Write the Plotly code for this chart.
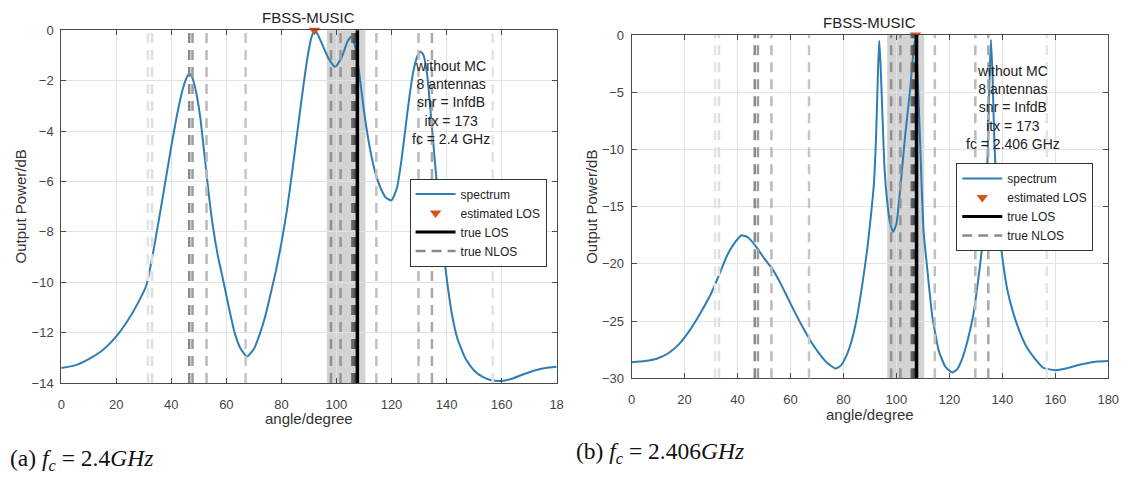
import plotly.graph_objects as go

W, H = 1138, 486

# ---- spectrum, fc = 2.4 GHz ----
ang_a = [0, 5, 10, 15, 20, 24, 28, 31, 34, 37, 40, 42, 44, 45.5, 46.5, 47.5, 49, 50.5, 52, 53.5,
         55, 57, 59, 61, 63, 65, 67.5, 70, 72, 74, 76, 78, 80, 82, 84, 86, 88, 89.5, 91, 92,
         93, 95, 97, 99.5, 102, 104, 105.5, 107, 108.5, 110, 112, 114, 116, 118, 120, 122, 123.5,
         125, 126.5, 128, 129.5, 130.5, 131.5, 133, 134.5, 136, 137.5, 139, 140.5, 142, 144, 147,
         150, 153, 156, 160, 164, 168, 172, 176, 180]
pow_a = [-13.40, -13.30, -13.05, -12.70, -12.15, -11.55, -10.80, -10.10, -8.45, -6.55, -4.60, -3.40,
         -2.40, -1.90, -1.72, -1.85, -2.45, -3.45, -4.90, -6.40, -7.70, -9.00, -10.00, -11.05,
         -12.00, -12.60, -12.95, -12.65, -12.10, -11.40, -10.50, -9.55, -8.45, -7.15, -5.55, -3.85,
         -2.20, -1.05, -0.25, -0.03, -0.12, -0.60, -1.10, -1.45, -1.05, -0.45, -0.25, -0.75, -1.90,
         -3.20, -4.60, -5.60, -6.25, -6.65, -6.75, -6.25, -5.25, -3.95, -2.65, -1.60, -1.00, -0.85,
         -0.95, -1.80, -3.60, -5.50, -7.30, -8.90, -10.20, -11.30, -12.25, -13.05, -13.50, -13.75,
         -13.88, -13.92, -13.82, -13.65, -13.50, -13.40, -13.35]

# ---- spectrum, fc = 2.406 GHz ----
ang_b = [0, 5, 9.5, 14, 18, 22, 26, 30, 33, 36, 38.5, 41.5, 44, 47, 50, 53, 56, 59, 62, 65, 68, 71,
         74, 77, 79, 81, 83, 85, 87, 89, 90.5, 91.5, 92.3, 93.0, 93.5, 94.0, 94.8, 95.5, 96.5, 97.5,
         98.7, 100, 101.5, 103.3, 105.3, 106.5, 107.2, 107.8, 108.5, 109.5, 110.3, 111.5, 113.5,
         116, 118.5, 121, 123, 125, 127, 129, 131, 132.5, 133.7, 134.5, 135.2, 135.7, 136.3, 137,
         138, 139, 140.5, 142, 144, 146.5, 149, 152, 155.5, 160, 164, 168, 172, 176, 180]
pow_b = [-28.60, -28.50, -28.30, -27.80, -27.00, -25.80, -24.30, -22.60, -21.00, -19.30, -18.30,
         -17.50, -17.70, -18.50, -19.50, -20.40, -21.60, -23.00, -24.40, -25.70, -26.90, -27.90,
         -28.70, -29.15, -28.90, -28.10, -26.80, -24.80, -22.00, -18.70, -15.50, -13.00, -9.00,
         -3.50, -0.50, -2.50, -7.50, -11.60, -14.50, -16.30, -17.20, -16.50, -13.30, -8.80, -4.50,
         -1.20, -0.20, -2.50, -6.50, -13.00, -17.30, -20.10, -24.50, -27.60, -29.00, -29.50, -29.20,
         -28.20, -26.60, -24.50, -21.20, -18.30, -15.50, -10.00, -3.50, -0.40, -3.50, -9.50, -14.00,
         -17.30, -20.30, -22.40, -24.20, -25.90, -27.20, -28.20, -29.10, -29.30, -29.15, -28.90,
         -28.70, -28.55, -28.50]

# estimated / true propagation paths (degrees)
est_los_a = 92.0
est_los_b = 107.2
true_los = 107.6
nlos_deg = [31.5, 33.0, 46.5, 47.7, 52.8, 67.0, 98.0, 101.5, 105.8, 106.6, 114.5, 129.8, 134.7, 156.8]
nlos_rel_power_db = [-28, -27, -13, -16, -21, -23, -14, -15, -7, -3, -22, -21, -18, -28]
los_region_deg = [96.5, 110.5]

info_a = ["without MC", "8 antennas", "snr = InfdB", "itx = 173", "fc = 2.4 GHz"]
info_b = ["without MC", "8 antennas", "snr = InfdB", "itx = 173", "fc = 2.406 GHz"]

xticks = [0, 20, 40, 60, 80, 100, 120, 140, 160, 180]
xticklabels_a = ["0", "20", "40", "60", "80", "100", "120", "140", "160", "18"]
xticklabels_b = ["0", "20", "40", "60", "80", "100", "120", "140", "160", "180"]
yticks_a = [0, -2, -4, -6, -8, -10, -12, -14]
yticks_b = [0, -5, -10, -15, -20, -25, -30]

FONT = "Liberation Sans, Arial, Helvetica, sans-serif"
BLUE = "#2f7db5"
ORANGE = "#D95319"
AXC = "#4a4a4a"

# panel boxes in pixels: left, right, top, bottom
box_a = (58, 560, 24, 388)
box_b = (636, 1119, 29, 383)


def px_x(p):
    return p / W


def px_y(p):
    return (H - p) / H


fig = go.Figure()

panels = [
    ("x", "y", ang_a, pow_a, est_los_a, "legend", box_a),
    ("x2", "y2", ang_b, pow_b, est_los_b, "legend2", box_b),
]

shapes = []
annotations = []
for xa, ya, ang, pw, est, leg, box in panels:
    fig.add_trace(go.Scatter(x=ang, y=pw, mode="lines", name="spectrum", xaxis=xa, yaxis=ya,
                             line=dict(color=BLUE, width=2, shape="spline", smoothing=0.5),
                             legend=leg, legendrank=1))
    fig.add_trace(go.Scatter(x=[est], y=[0], mode="markers", name="estimated LOS", xaxis=xa, yaxis=ya,
                             marker=dict(symbol="triangle-down", size=10, color=ORANGE),
                             cliponaxis=False, legend=leg, legendrank=2))
    fig.add_trace(go.Scatter(x=[None], y=[None], mode="lines", name="true LOS", xaxis=xa, yaxis=ya,
                             line=dict(color="black", width=3), legend=leg, legendrank=3))
    fig.add_trace(go.Scatter(x=[None], y=[None], mode="lines", name="true NLOS", xaxis=xa, yaxis=ya,
                             line=dict(color="#8a8a8a", width=2.5, dash="10px,6px"),
                             legend=leg, legendrank=4))

    yd = ya + " domain"
    shapes.append(dict(type="rect", xref=xa, yref=yd, x0=los_region_deg[0], x1=los_region_deg[1],
                       y0=0, y1=1, fillcolor="rgba(140,140,140,0.38)", line=dict(width=0),
                       layer="below"))
    for a, p in zip(nlos_deg, nlos_rel_power_db):
        g = int(60 + min(-p, 30) / 30 * 180)
        shapes.append(dict(type="line", xref=xa, yref=yd, x0=a, x1=a, y0=0, y1=1, layer="above",
                           line=dict(color=f"rgb({g},{g},{g})", width=2.5, dash="10px,7px")))
    shapes.append(dict(type="line", xref=xa, yref=yd, x0=true_los, x1=true_los, y0=0, y1=1,
                       layer="above", line=dict(color="black", width=3.5)))

    l, r, t, b = box
    cx = (l + r) / 2
    annotations.append(dict(text="FBSS-MUSIC", xref="paper", yref="paper", x=px_x(cx), y=px_y(t - 13),
                            showarrow=False, xanchor="center", yanchor="middle",
                            font=dict(family=FONT, size=15, color="#222")))
    annotations.append(dict(text="angle/degree", xref="paper", yref="paper", x=px_x(cx), y=px_y(b + 37),
                            showarrow=False, xanchor="center", yanchor="middle",
                            font=dict(family=FONT, size=15, color="#333")))
    annotations.append(dict(text="Output Power/dB", xref="paper", yref="paper", x=px_x(l - 41),
                            y=px_y((t + b) / 2), textangle=-90, showarrow=False,
                            xanchor="center", yanchor="middle",
                            font=dict(family=FONT, size=15, color="#333")))

# parameter text blocks
annotations.append(dict(text="<br>".join(info_a), xref="x", yref="paper", x=141.6, y=px_y(51),
                        showarrow=False, xanchor="center", yanchor="top", align="center",
                        font=dict(family=FONT, size=14, color="#222")))
annotations.append(dict(text="<br>".join(info_b), xref="x2", yref="paper", x=144.2, y=px_y(56),
                        showarrow=False, xanchor="center", yanchor="top", align="center",
                        font=dict(family=FONT, size=14, color="#222")))

# sub-figure captions
SERIF = "Liberation Serif, Times New Roman, serif"
annotations.append(dict(text="(a) <i>f<sub>c</sub></i> = 2.4<i>GHz</i>", xref="paper", yref="paper",
                        x=px_x(4), y=px_y(467), showarrow=False, xanchor="left", yanchor="middle",
                        font=dict(family=SERIF, size=23.5, color="#111")))
annotations.append(dict(text="(b) <i>f<sub>c</sub></i> = 2.406<i>GHz</i>", xref="paper", yref="paper",
                        x=px_x(578), y=px_y(460), showarrow=False, xanchor="left", yanchor="middle",
                        font=dict(family=SERIF, size=23.5, color="#111")))

axis_common = dict(showgrid=True, gridcolor="#e2e2e2", gridwidth=1, showline=True, linecolor=AXC,
                   linewidth=1, mirror="ticks", ticks="inside", ticklen=5, tickcolor=AXC,
                   zeroline=False, tickfont=dict(family=FONT, size=13, color="#444"))

legend_common = dict(bgcolor="white", bordercolor="#333", borderwidth=1,
                     font=dict(family=FONT, size=12, color="#222"), tracegroupgap=0,
                     itemwidth=40, xanchor="left", yanchor="top", itemclick=False)

fig.update_layout(
    width=W, height=H, margin=dict(l=0, r=0, t=0, b=0),
    paper_bgcolor="white", plot_bgcolor="white",
    xaxis=dict(domain=[px_x(box_a[0]), px_x(box_a[1])], range=[0, 180], tickvals=xticks,
               ticktext=xticklabels_a, anchor="y", ticklabelstandoff=9, **axis_common),
    yaxis=dict(domain=[px_y(box_a[3]), px_y(box_a[2])], range=[-14, 0], tickvals=yticks_a,
               anchor="x", ticklabelstandoff=4, **axis_common),
    xaxis2=dict(domain=[px_x(box_b[0]), px_x(box_b[1])], range=[0, 180], tickvals=xticks,
                ticktext=xticklabels_b, anchor="y2", ticklabelstandoff=9, **axis_common),
    yaxis2=dict(domain=[px_y(box_b[3]), px_y(box_b[2])], range=[-30, 0], tickvals=yticks_b,
                anchor="x2", ticklabelstandoff=4, **axis_common),
    legend=dict(x=px_x(411), y=px_y(177), **legend_common),
    legend2=dict(x=px_x(965), y=px_y(161), **legend_common),
    shapes=shapes,
    annotations=annotations,
)

fig.write_html("out.html")
